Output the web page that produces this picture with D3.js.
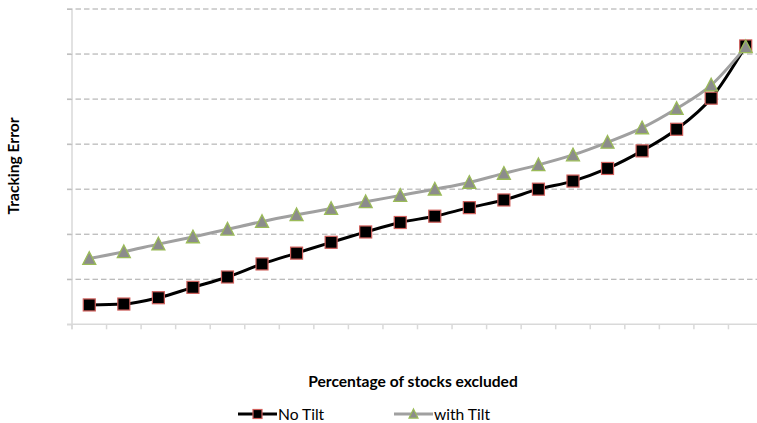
<!DOCTYPE html>
<html>
<head>
<meta charset="utf-8">
<script src="https://cdn.jsdelivr.net/npm/d3@7"></script>
<style>
  html, body { margin: 0; padding: 0; background: #fff; }
  svg { display: block; }
</style>
</head>
<body>
<svg id="chart" width="757" height="423"></svg>
<script>
// Twenty exclusion buckets along the category axis
const categories = d3.range(1, 21).map(String);

// Tracking error by bucket, no tilt applied
const noTilt = [0.43, 0.45, 0.59, 0.82, 1.05, 1.34, 1.58, 1.82, 2.05, 2.26,
                2.40, 2.59, 2.76, 3.00, 3.18, 3.46, 3.85, 4.33, 5.02, 6.18];

// Tracking error by bucket, with tilt applied
const withTilt = [1.46, 1.61, 1.78, 1.94, 2.11, 2.28, 2.43, 2.57, 2.72, 2.86,
                  3.00, 3.15, 3.35, 3.54, 3.76, 4.04, 4.36, 4.79, 5.31, 6.16];

// Gridline levels on the value axis
const yTicks = [0, 1, 2, 3, 4, 5, 6, 7];

const seriesNames = ["No Tilt", "with Tilt"];

const svg = d3.select("#chart");
const font = "Lato, 'Open Sans', sans-serif";
const titleSize = 15.6;

const plot = { left: 72, top: 9, bottom: 324.3, band: 34.55 };
plot.right = plot.left + plot.band * categories.length;

const x = d3.scaleBand().domain(categories).range([plot.left, plot.right]).padding(0);
const y = d3.scaleLinear().domain([0, 7]).range([plot.bottom, plot.top]);
const cx = d => x(d) + x.bandwidth() / 2;

// Dashed horizontal gridlines
svg.append("g")
  .selectAll("line")
  .data(yTicks.filter(t => t > 0))
  .join("line")
  .attr("x1", plot.left - 5).attr("x2", plot.right)
  .attr("y1", d => y(d)).attr("y2", d => y(d))
  .attr("stroke", "#a6a6a6").attr("stroke-width", 1)
  .attr("stroke-dasharray", "5.5,3");

// Value axis line with outward ticks
const yAxis = d3.axisLeft(y).tickValues(yTicks).tickSize(5).tickFormat("");
const gy = svg.append("g").attr("transform", `translate(${plot.left},0)`).call(yAxis);
gy.select(".domain").attr("stroke", "#d9d9d9").attr("stroke-width", 1.5)
  .attr("d", `M0,${plot.top}V${plot.bottom + 5}`);
gy.selectAll(".tick line").attr("stroke", "#bfbfbf");

// Category axis line with ticks at band edges
const edges = categories.map(c => x(c));
const gx = svg.append("g").attr("transform", `translate(0,${plot.bottom})`);
gx.append("line").attr("x1", plot.left - 5).attr("x2", plot.right)
  .attr("stroke", "#d9d9d9").attr("stroke-width", 1.5);
gx.selectAll("line.tick").data(edges).join("line").attr("class", "tick")
  .attr("x1", d => d).attr("x2", d => d).attr("y1", 0).attr("y2", 5)
  .attr("stroke", "#d9d9d9").attr("stroke-width", 1.5);

const line = d3.line().x((d, i) => cx(categories[i])).y(d => y(d)).curve(d3.curveMonotoneX);

// No Tilt series
svg.append("path").datum(noTilt).attr("d", line)
  .attr("fill", "none").attr("stroke", "#000").attr("stroke-width", 3);

// with Tilt series
svg.append("path").datum(withTilt).attr("d", line)
  .attr("fill", "none").attr("stroke", "#a0a0a0").attr("stroke-width", 3);

function square(sel, s) {
  return sel.attr("width", s).attr("height", s)
    .attr("fill", "#000").attr("stroke", "#d0605c").attr("stroke-width", 1.2);
}
function triPath(s) {
  const h = s * 0.9;
  return `M0,${-h / 2 - 1}L${s / 2},${h / 2}L${-s / 2},${h / 2}Z`;
}

svg.append("g").selectAll("rect").data(noTilt).join("rect")
  .attr("x", (d, i) => cx(categories[i]) - 6)
  .attr("y", d => y(d) - 6)
  .call(square, 12);

svg.append("g").selectAll("path").data(withTilt).join("path")
  .attr("transform", (d, i) => `translate(${cx(categories[i])},${y(d)})`)
  .attr("d", triPath(13))
  .attr("fill", "#8c8c8c").attr("stroke", "#9bbb59").attr("stroke-width", 1.3);

// Axis titles
svg.append("text")
  .attr("transform", "translate(19,166) rotate(-90)")
  .attr("text-anchor", "middle")
  .attr("font-family", font).attr("font-weight", "bold").attr("font-size", titleSize)
  .attr("fill", "#000")
  .text("Tracking Error");

svg.append("text")
  .attr("x", 413).attr("y", 387)
  .attr("text-anchor", "middle")
  .attr("font-family", font).attr("font-weight", "bold").attr("font-size", titleSize)
  .attr("fill", "#000")
  .text("Percentage of stocks excluded");

// Legend
const legend = svg.append("g");
const lx = [238, 394];
const ly = 414;
legend.append("line").attr("x1", lx[0]).attr("x2", lx[0] + 39).attr("y1", ly).attr("y2", ly)
  .attr("stroke", "#000").attr("stroke-width", 3);
legend.append("rect").attr("x", lx[0] + 19.5 - 4.5).attr("y", ly - 4.5).call(square, 9);
legend.append("line").attr("x1", lx[1]).attr("x2", lx[1] + 39).attr("y1", ly).attr("y2", ly)
  .attr("stroke", "#a0a0a0").attr("stroke-width", 3);
legend.append("path").attr("transform", `translate(${lx[1] + 19.5},${ly})`)
  .attr("d", triPath(9))
  .attr("fill", "#8c8c8c").attr("stroke", "#9bbb59").attr("stroke-width", 1.2);
legend.selectAll("text").data(seriesNames).join("text")
  .attr("x", (d, i) => lx[i] + 40).attr("y", ly + 5.5)
  .attr("font-family", font).attr("font-size", titleSize).attr("fill", "#000")
  .text(d => d);
</script>
</body>
</html>
